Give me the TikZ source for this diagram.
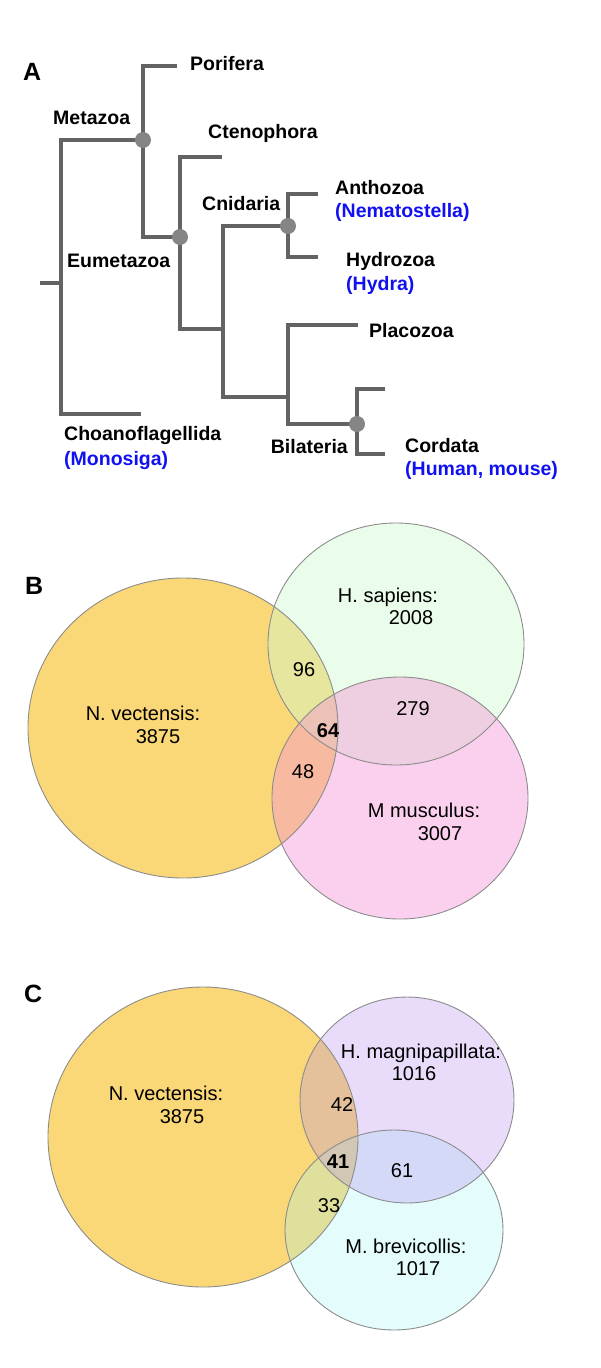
\documentclass[tikz,border=0pt]{standalone}
\usepackage{fontspec}
\setmainfont{Liberation Sans}
\definecolor{branch}{HTML}{636363}
\definecolor{dotc}{HTML}{858585}
\definecolor{taxblue}{HTML}{1010F0}
\definecolor{vyellow}{HTML}{FAD878}
\definecolor{vgreen}{HTML}{D0F8D0}
\definecolor{vpink}{HTML}{F590D6}
\definecolor{vpurple}{HTML}{B28AEE}
\definecolor{vcyan}{HTML}{A5F5F5}
\definecolor{vedge}{HTML}{8C8C8C}
\tikzset{
  br/.style={draw=branch, line width=4pt, line cap=butt, line join=miter},
  nodedot/.style={fill=dotc},
  tax/.style={font=\fontsize{19.5}{20}\selectfont\bfseries, inner sep=0pt, anchor=base west},
  taxb/.style={tax, text=taxblue},
  panel/.style={font=\fontsize{25}{25}\selectfont\bfseries, inner sep=0pt, anchor=base west},
  vlab/.style={font=\fontsize{20}{22}\selectfont, inner sep=0pt, anchor=base},
  vnum/.style={vlab},
  vbold/.style={vlab, font=\fontsize{20}{22}\selectfont\bfseries},
  venn/.style={draw=vedge, line width=0.9pt},
}
\begin{document}
\begin{tikzpicture}[x=1pt, y=-1pt]
\useasboundingbox (0,0) rectangle (600,1368);
% ---------------- panel A: tree ----------------
\node[panel] (A) at (23,80) {A};
\coordinate (root0) at (40,283);
\coordinate (root1) at (61,283);
\coordinate (met) at (143,140);
\coordinate (met1) at (61,140);
\coordinate (cho1) at (61,414);
\coordinate (cho) at (141,414);
\coordinate (por) at (177,66);
\coordinate (por1) at (143,66);
\coordinate (eum1) at (143,237);
\coordinate (eum) at (180,237);
\coordinate (cte) at (222,157);
\coordinate (cte1) at (180,157);
\coordinate (x11) at (180,329);
\coordinate (x1) at (223,329);
\coordinate (cni) at (288,226);
\coordinate (cni1) at (223,226);
\coordinate (x21) at (223,397);
\coordinate (x2) at (288,397);
\coordinate (ant) at (318,194);
\coordinate (ant1) at (288,194);
\coordinate (hyd1) at (288,257);
\coordinate (hyd) at (318,257);
\coordinate (pla) at (358,325);
\coordinate (pla1) at (288,325);
\coordinate (bil1) at (288,424);
\coordinate (bil) at (357,424);
\coordinate (cor) at (385,389);
\coordinate (cor1) at (357,389);
\coordinate (cor2) at (357,454);
\coordinate (cor3) at (385,454);

\draw[br] (root0) -- (root1);
\draw[br] (met) -- (met1) -- (cho1) -- (cho);
\draw[br] (por) -- (por1) -- (eum1) -- (eum);
\draw[br] (cte) -- (cte1) -- (x11) -- (x1);
\draw[br] (cni) -- (cni1) -- (x21) -- (x2);
\draw[br] (ant) -- (ant1) -- (hyd1) -- (hyd);
\draw[br] (pla) -- (pla1) -- (bil1) -- (bil);
\draw[br] (cor) -- (cor1) -- (cor2) -- (cor3);
\foreach \p in {met,eum,cni,bil} \fill[nodedot] (\p) circle (8);

\node[tax] (tPor) at (190,70) {Porifera};
\node[tax] (tMet) at (53,124) {Metazoa};
\node[tax] (tCte) at (208,138) {Ctenophora};
\node[tax] (tCni) at (202,210) {Cnidaria};
\node[tax] (tAnt) at (335,194) {Anthozoa};
\node[taxb] (tNem) at (335,217) {(Nematostella)};
\node[tax] (tEum) at (67,267) {Eumetazoa};
\node[tax] (tHyd) at (346,266) {Hydrozoa};
\node[taxb] (tHyA) at (346,290) {(Hydra)};
\node[tax] (tPla) at (369,337) {Placozoa};
\node[tax] (tCho) at (64,440) {Choanoflagellida};
\node[taxb] (tMon) at (64,465) {(Monosiga)};
\node[tax, anchor=base east] (tBil) at (348,453) {Bilateria};
\node[tax] (tCor) at (405,452) {Cordata};
\node[taxb] (tHum) at (405,475) {(Human, mouse)};

% ---------------- panel B ----------------
\node[panel] (B) at (25,594) {B};
\coordinate (bY) at (183,728);
\coordinate (bG) at (396,644);
\coordinate (bP) at (400,798);
\fill[vyellow] (bY) ellipse [x radius=155, y radius=150];
\fill[vgreen, fill opacity=0.45] (bG) ellipse [x radius=128, y radius=121];
\fill[vpink, fill opacity=0.42] (bP) ellipse [x radius=128, y radius=121];
\draw[venn] (bY) ellipse [x radius=155, y radius=150];
\draw[venn] (bG) ellipse [x radius=128, y radius=121];
\draw[venn] (bP) ellipse [x radius=128, y radius=121];
\node[vlab] (bHs) at (388,602) {H. sapiens:};
\node[vnum] (bHsn) at (411,624) {2008};
\node[vnum] (b96) at (304,676) {96};
\node[vnum] (b279) at (413,715) {279};
\node[vlab] (bNv) at (143,720) {N. vectensis:};
\node[vnum] (bNvn) at (158,743) {3875};
\node[vbold] (b64) at (328,737) {64};
\node[vnum] (b48) at (303,778) {48};
\node[vlab] (bMm) at (424,817) {M musculus:};
\node[vnum] (bMmn) at (440,840) {3007};

% ---------------- panel C ----------------
\node[panel] (C) at (24,1002) {C};
\coordinate (cY) at (203,1137);
\coordinate (cPu) at (407,1100);
\coordinate (cCy) at (394,1230);
\fill[vyellow] (cY) ellipse [x radius=155, y radius=150];
\fill[vcyan, fill opacity=0.3] (cCy) ellipse [x radius=109, y radius=100];
\fill[vpurple, fill opacity=0.3] (cPu) ellipse [x radius=107, y radius=103];
\draw[venn] (cY) ellipse [x radius=155, y radius=150];
\draw[venn] (cPu) ellipse [x radius=107, y radius=103];
\draw[venn] (cCy) ellipse [x radius=109, y radius=100];
\node[vlab] (cNv) at (166,1100) {N. vectensis:};
\node[vnum] (cNvn) at (182,1123) {3875};
\node[vlab] (cHm) at (421,1058) {H. magnipapillata:};
\node[vnum] (cHmn) at (414,1080) {1016};
\node[vnum] (c42) at (342,1111) {42};
\node[vbold] (c41) at (338,1168) {41};
\node[vnum] (c61) at (402,1177) {61};
\node[vnum] (c33) at (329,1212) {33};
\node[vlab] (cMb) at (406,1253) {M. brevicollis:};
\node[vnum] (cMbn) at (418,1275) {1017};
\end{tikzpicture}
\end{document}
